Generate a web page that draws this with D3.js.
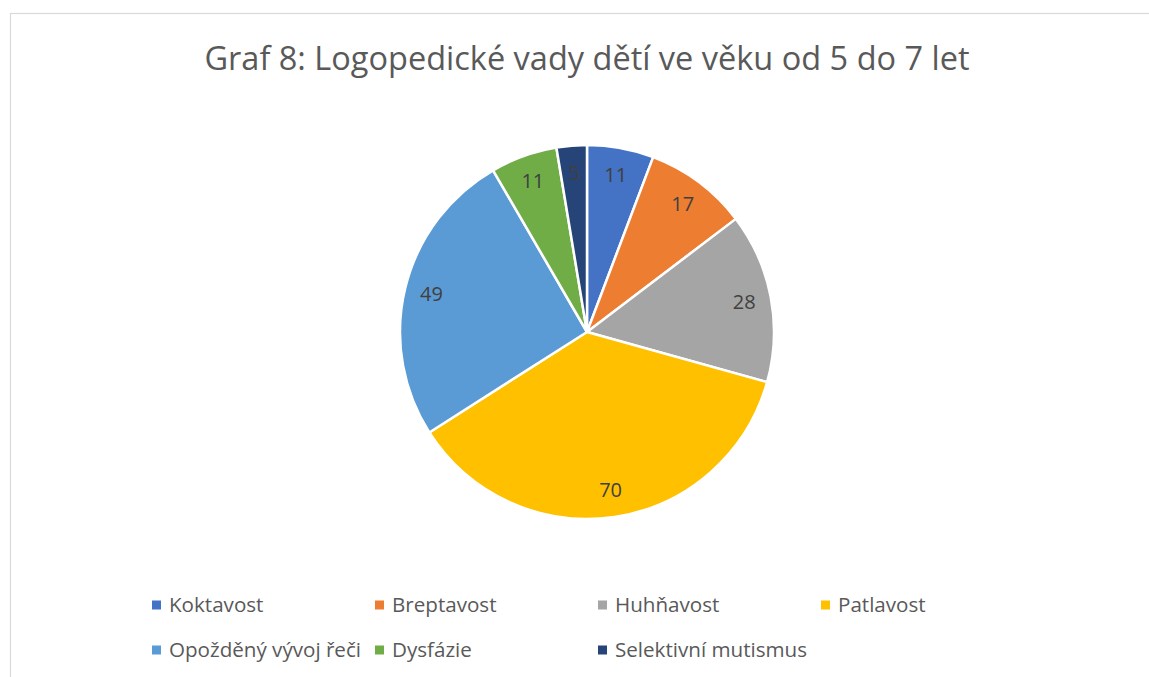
<!DOCTYPE html>
<html>
<head>
<meta charset="utf-8">
<script src="https://cdn.jsdelivr.net/npm/d3@7"></script>
<style>
  body { margin: 0; background: #fff; }
  svg { display: block; font-family: "Open Sans", "Noto Sans", sans-serif; }
</style>
</head>
<body>
<div id="chart"></div>
<script>
/* data */
var categories = ['Koktavost', 'Breptavost', 'Huhňavost', 'Patlavost',
                  'Opožděný vývoj řeči', 'Dysfázie', 'Selektivní mutismus'];
var values = [11, 17, 28, 70, 49, 11, 5];
var colors = ['#4472c4', '#ed7d31', '#a5a5a5', '#ffc000', '#5b9bd5', '#70ad47', '#264478'];
var titleText = 'Graf 8: Logopedické vady dětí ve věku od 5 do 7 let';

/* setup */
var iWidth = 1149,
    iHeight = 677,
    cx = 587,
    cy = 332,
    radius = 187,
    labelRad = 160;

var svg = d3.select('#chart').append('svg')
    .attr('width', iWidth)
    .attr('height', iHeight);

// chart frame (cut off at right and bottom)
svg.append('rect')
    .attr('x', 10.5).attr('y', 13.5)
    .attr('width', iWidth + 20).attr('height', iHeight + 20)
    .attr('fill', 'none')
    .attr('stroke', '#d9d9d9')
    .attr('stroke-width', 1.2);

svg.append('text')
    .attr('x', cx)
    .attr('y', 70)
    .attr('text-anchor', 'middle')
    .attr('fill', '#595959')
    .style('font-size', '32.5px')
    .text(titleText);

var data = categories.map(function (c, i) { return { name: c, value: values[i], color: colors[i] }; });

var pie = d3.pie().sort(null).value(function (d) { return d.value; });
var arc = d3.arc().innerRadius(0).outerRadius(radius);
var labelArc = d3.arc().innerRadius(labelRad).outerRadius(labelRad);

var g = svg.append('g').attr('transform', 'translate(' + cx + ',' + cy + ')');

var slices = g.selectAll('.slice')
    .data(pie(data))
  .enter().append('g')
    .attr('class', 'slice');

slices.append('path')
    .attr('d', arc)
    .attr('fill', function (d) { return d.data.color; })
    .attr('stroke', '#fff')
    .attr('stroke-width', 2.5)
    .attr('stroke-linejoin', 'round');

slices.append('text')
    .attr('transform', function (d) { return 'translate(' + labelArc.centroid(d) + ')'; })
    .attr('text-anchor', 'middle')
    .attr('dy', '0.35em')
    .attr('fill', '#404040')
    .style('font-size', '20px')
    .text(function (d) { return d.data.value; });

/* legend */
var legX = 152, legY = 605, colW = 223, rowH = 45;
var leg = svg.selectAll('.leg')
    .data(data)
  .enter().append('g')
    .attr('class', 'leg')
    .attr('transform', function (d, i) {
        return 'translate(' + (legX + (i % 4) * colW) + ',' + (legY + Math.floor(i / 4) * rowH) + ')';
    });

leg.append('rect')
    .attr('x', 0).attr('y', -4.5)
    .attr('width', 9).attr('height', 9)
    .attr('fill', function (d) { return d.color; });

leg.append('text')
    .attr('x', 17)
    .attr('dy', '0.35em')
    .attr('fill', '#595959')
    .style('font-size', '20.6px')
    .text(function (d) { return d.name; });
</script>
</body>
</html>
